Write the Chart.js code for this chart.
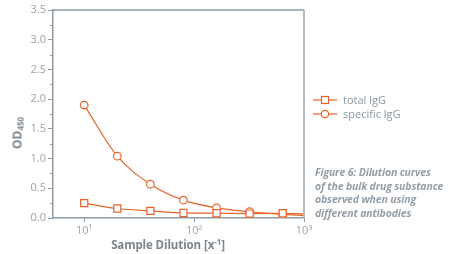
<!DOCTYPE html>
<html>
<head>
<meta charset="utf-8">
<script src="https://cdn.jsdelivr.net/npm/chart.js@4/dist/chart.umd.min.js"></script>
<style>
  html, body { margin: 0; padding: 0; background: #fff; }
  #wrap { position: relative; width: 458px; height: 254px; overflow: hidden; font-family: "Open Sans", sans-serif; }
  #c { position: absolute; left: 0; top: 0; }
  .ytitle { position: absolute; left: 17px; top: 133px; transform: translate(-50%, -50%) rotate(-90deg); font-weight: bold; font-size: 12px; color: #7a858e; white-space: nowrap; }
  .ytitle sub { font-size: 8px; vertical-align: -2px; }
  .xtitle { position: absolute; left: 168px; top: 244px; transform: translate(-50%, -50%); font-weight: bold; font-size: 11.5px; letter-spacing: -0.1px; color: #7a858e; white-space: nowrap; }
  .xtitle sup { font-size: 8px; vertical-align: 4px; }
  .legend { position: absolute; left: 313px; top: 93px; font-size: 11px; color: #8d979f; }
  .legend div { height: 14px; line-height: 14px; display: flex; align-items: center; }
  .legend svg { margin-right: 5px; }
  .caption { position: absolute; left: 315px; top: 166px; font-size: 10.5px; letter-spacing: -0.15px; font-style: italic; font-weight: bold; color: #949ea6; line-height: 13.5px; }
</style>
</head>
<body>
<div id="wrap">
  <canvas id="c" width="458" height="254"></canvas>
  <div class="ytitle">OD<sub>450</sub></div>
  <div class="xtitle">Sample Dilution [x<sup>-1</sup>]</div>
  <div class="legend">
    <div><svg width="25" height="10"><line x1="0" y1="5" x2="24" y2="5" stroke="#e8632a" stroke-width="1.2"/><rect x="8.5" y="1.5" width="7" height="7" fill="#fff" stroke="#e8632a" stroke-width="1.2"/></svg>total lgG</div>
    <div><svg width="25" height="10"><line x1="0" y1="5" x2="24" y2="5" stroke="#e8632a" stroke-width="1.2"/><circle cx="12" cy="5" r="3.7" fill="#fff" stroke="#e8632a" stroke-width="1.2"/></svg>specific lgG</div>
  </div>
  <div class="caption">Figure 6: Dilution curves<br>of the bulk drug substance<br>observed when using<br>different antibodies</div>
</div>
<script>
// Data
const dilutions = [10, 20, 40, 80, 160, 320, 640];
const totalIgG = [0.25, 0.16, 0.12, 0.085, 0.08, 0.075, 0.08];
const specificIgG = [1.90, 1.04, 0.57, 0.30, 0.17, 0.105, 0.06];
// where the fitted curves meet the right edge (dilution 1000)
const curveEndDilution = 1000;
const totalIgGEnd = 0.07;
const specificIgGEnd = 0.045;
const xTickValues = [10, 100, 1000];
const xTickLabels = ['10\u00B9', '10\u00B2', '10\u00B3'];
const yTickValues = [0, 0.5, 1, 1.5, 2, 2.5, 3, 3.5];

const ORANGE = '#e8632a';
const AXIS = '#8f9aa3';
const TICK = '#9aa3aa';

function series(vals, endVal) {
  const pts = dilutions.map((d, i) => ({ x: d, y: vals[i] }));
  pts.push({ x: curveEndDilution, y: endVal });
  return pts;
}
const radii = (r) => dilutions.map(() => r).concat([0]);

const framePlugin = {
  id: 'frame',
  afterDraw(chart) {
    const { ctx, chartArea: a, scales } = chart;
    ctx.save();
    ctx.strokeStyle = AXIS;
    ctx.lineWidth = 1.5;
    ctx.beginPath(); ctx.moveTo(a.left, a.top); ctx.lineTo(a.right, a.top); ctx.stroke();
    ctx.strokeStyle = '#b4bcc2';
    ctx.lineWidth = 2;
    ctx.beginPath(); ctx.moveTo(a.right, a.top); ctx.lineTo(a.right, a.bottom); ctx.stroke();
    ctx.strokeStyle = AXIS;
    ctx.lineWidth = 1;
    for (let i = 0; i < yTickValues.length - 1; i++) {
      const v = (yTickValues[i] + yTickValues[i + 1]) / 2;
      const py = Math.round(scales.y.getPixelForValue(v)) + 0.5;
      ctx.beginPath(); ctx.moveTo(a.left - 3, py); ctx.lineTo(a.left, py); ctx.stroke();
    }
    ctx.restore();
  }
};

new Chart(document.getElementById('c'), {
  type: 'line',
  data: {
    datasets: [
      {
        label: 'total lgG',
        data: series(totalIgG, totalIgGEnd),
        borderColor: ORANGE, borderWidth: 1.2,
        pointStyle: 'rect', pointRadius: radii(5), pointBorderWidth: 1.2,
        pointBackgroundColor: '#fff', pointBorderColor: ORANGE,
        cubicInterpolationMode: 'monotone', fill: false
      },
      {
        label: 'specific lgG',
        data: series(specificIgG, specificIgGEnd),
        borderColor: ORANGE, borderWidth: 1.2,
        pointStyle: 'circle', pointRadius: radii(3.8), pointBorderWidth: 1.2,
        pointBackgroundColor: '#fff', pointBorderColor: ORANGE,
        cubicInterpolationMode: 'monotone', fill: false
      }
    ]
  },
  options: {
    responsive: false,
    animation: false,
    layout: { padding: { top: 10, right: 154, left: 0, bottom: 0 } },
    plugins: { legend: { display: false }, tooltip: { enabled: false } },
    scales: {
      x: {
        type: 'logarithmic',
        min: 5.2, max: 1000,
        afterBuildTicks(s) { s.ticks = xTickValues.map(v => ({ value: v })); },
        afterFit(s) { s.height = 36; },
        ticks: {
          autoSkip: false, maxRotation: 0,
          color: TICK, font: { family: 'Open Sans', size: 11 }, padding: 2,
          callback(v) { const i = xTickValues.indexOf(v); return i >= 0 ? xTickLabels[i] : ''; }
        },
        grid: { drawOnChartArea: false, drawTicks: true, tickLength: 4, color: AXIS },
        border: { color: AXIS, width: 1.5 }
      },
      y: {
        min: 0, max: 3.5,
        afterBuildTicks(s) { s.ticks = yTickValues.map(v => ({ value: v })); },
        afterFit(s) { s.width = 53; },
        ticks: {
          color: TICK, font: { family: 'Open Sans', size: 11 }, padding: 2,
          callback(v) { return Number(v).toFixed(1); }
        },
        grid: { drawOnChartArea: false, drawTicks: true, tickLength: 5, color: AXIS },
        border: { color: AXIS, width: 1.5 }
      }
    }
  },
  plugins: [framePlugin]
});
</script>
</body>
</html>
